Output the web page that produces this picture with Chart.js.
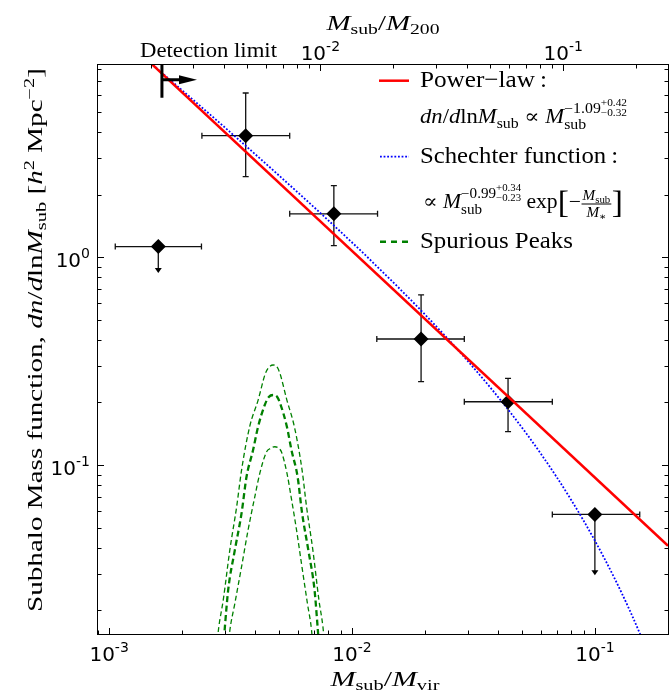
<!DOCTYPE html>
<html>
<head>
<meta charset="utf-8">
<script src="https://cdn.jsdelivr.net/npm/chart.js@4.4.0/dist/chart.umd.min.js"></script>
<style>
  html, body { margin: 0; padding: 0; background: #fff; }
  #c { display: block; }
</style>
</head>
<body>
<canvas id="c" width="670" height="694"></canvas>
<script>
// ===== Data =====

// binned subhalo mass function (x = Msub/Mvir)
const massBins = [0.001594, 0.00365, 0.00842, 0.01925, 0.0439, 0.1];
const binLow   = [0.00106, 0.00241, 0.00554, 0.01265, 0.0290, 0.0668];
const binHigh  = [0.00240, 0.00554, 0.01274, 0.0290, 0.0668, 0.153];
const massFn     = [1.125, 3.84, 1.616, 0.404, 0.2017, 0.0579];
const massFnLow  = [null, 2.44, 1.137, 0.2518, 0.1447, null];
const massFnHigh = [null, 6.16, 2.21, 0.658, 0.2615, null];
const limitTip   = [0.84, null, null, null, null, 0.0295];   // upper limits

// power-law fit (straight in log-log, ends at the frame)
const powerLawX = [0.0014, 0.2];
const powerLawY = [9.14, 0.0409];

// Schechter fit
const schechterX = [0.0014, 0.002, 0.003, 0.005, 0.008, 0.012, 0.02, 0.03, 0.045, 0.06, 0.08, 0.1, 0.12, 0.14, 0.16];
const schechterY = [9.09, 6.34, 4.20, 2.474, 1.501, 0.9605, 0.529, 0.316, 0.1784, 0.1131, 0.0678, 0.0433, 0.0288, 0.0197, 0.01375];

// spurious peaks: upper bound, median, lower bound
const peakHiX = [0.00279, 0.00283, 0.00295, 0.00314, 0.00335, 0.00351, 0.00379, 0.00411, 0.00439, 0.004543, 0.00473, 0.004928, 0.00506, 0.00539, 0.00579, 0.00623, 0.00650, 0.00690, 0.00731, 0.00759, 0.00768];
const peakHiY = [0.0144, 0.0167, 0.0224, 0.0390, 0.0630, 0.0946, 0.153, 0.206, 0.274, 0.2947, 0.303, 0.2947, 0.274, 0.206, 0.153, 0.0946, 0.0630, 0.0390, 0.0224, 0.0167, 0.0144];
const peakMidX = [0.002969, 0.002997, 0.003091, 0.003293, 0.003509, 0.003679, 0.003915, 0.004105, 0.004373, 0.004543, 0.004732, 0.004921, 0.005087, 0.005395, 0.005634, 0.005970, 0.006233, 0.006610, 0.007013, 0.007218, 0.007287];
const peakMidY = [0.0144, 0.01665, 0.02501, 0.03898, 0.05854, 0.08785, 0.1181, 0.1529, 0.1945, 0.2126, 0.2173, 0.2126, 0.1945, 0.1529, 0.1181, 0.08785, 0.05854, 0.03898, 0.02501, 0.01665, 0.0144];
const peakLoX = [0.003112, 0.003142, 0.003293, 0.003509, 0.003733, 0.003979, 0.004172, 0.004444, 0.004607, 0.004807, 0.005016, 0.005126, 0.005400, 0.005614, 0.005912, 0.006223, 0.006554, 0.006815, 0.006867];
const peakLoY = [0.0144, 0.01605, 0.02159, 0.03238, 0.04864, 0.0704, 0.0912, 0.1155, 0.1201, 0.1225, 0.1201, 0.1155, 0.0912, 0.0704, 0.04864, 0.03238, 0.02159, 0.01605, 0.0144];

// detection limit marker
const detectionLimit = 0.00165;
const detArrowEnd = 0.0023;
const detLineBottom = 5.85;
const detArrowY = 7.14;

// axes
const xRange = [0.0009, 0.2];
const yRange = [0.0154, 8.4];
const m200Ratio = 1.35;          // Msub/M200 = 1.35 * Msub/Mvir
const xMajor = [1e-3, 1e-2, 1e-1];
const xMajorLabels = ['-3', '-2', '-1'];
const x2Major = [1e-2, 1e-1];
const x2MajorLabels = ['-2', '-1'];
const yMajor = [0.1, 1];
const yMajorLabels = ['-1', '0'];

// ===== Text helpers =====

const SERIF = '"Liberation Serif", "DejaVu Serif", serif';
const SANS = '"DejaVu Sans", sans-serif';

function partFont(p) {
    return (p.it ? 'italic ' : '') + (p.s || 20) + 'px ' + (p.sans ? SANS : SERIF);
}

function layout(ctx, parts, draw) {
    let cx = 0, prevStart = 0;
    for (const p of parts) {
        const start = p.back ? prevStart : cx;
        let w;
        if (p.frac) {
            const wn = layout(ctx, p.frac[0], false);
            const wd = layout(ctx, p.frac[1], false);
            w = Math.max(wn, wd) + 3;
            if (draw) {
                ctx.save(); ctx.translate(start + (w - wn) / 2, p.ndy); layout(ctx, p.frac[0], true); ctx.restore();
                ctx.save(); ctx.translate(start + (w - wd) / 2, p.ddy); layout(ctx, p.frac[1], true); ctx.restore();
                ctx.fillRect(start + 0.5, p.bdy - 0.5, w - 1, 1);
            }
        } else {
            ctx.font = partFont(p);
            w = ctx.measureText(p.t).width;
            if (draw) ctx.fillText(p.t, start, p.dy || 0);
        }
        cx = Math.max(cx, start + w);
        prevStart = start;
    }
    return cx;
}

function drawRich(ctx, parts, x, y, o = {}) {
    const nat = layout(ctx, parts, false);
    const sc = o.width ? o.width / nat : 1;
    const total = nat * sc;
    const x0 = o.align === 'center' ? -total / 2 : o.align === 'right' ? -total : 0;
    ctx.save();
    ctx.fillStyle = '#000';
    ctx.textBaseline = 'alphabetic';
    ctx.textAlign = 'left';
    ctx.translate(x, y);
    if (o.rot) ctx.rotate(o.rot);
    ctx.translate(x0, 0);
    ctx.scale(sc, 1);
    layout(ctx, parts, true);
    ctx.restore();
}

function tickLabel(exp) {
    return [{ t: '10', s: 20, sans: true }, { t: exp, s: 14, sans: true, dy: -9 }];
}

function minorTicks(lo, hi) {
    const out = [];
    for (let e = -4; e <= 1; e++) {
        for (let k = 2; k <= 9; k++) {
            const v = k * Math.pow(10, e);
            if (v > lo && v < hi) out.push(v);
        }
    }
    return out;
}

// ===== Decorations: error bars, limits, frame, ticks, texts =====

const CAP = 3;
const decor = {
    id: 'decor',
    beforeDatasetsDraw(chart) {
        const { ctx, scales: { x, y } } = chart;
        ctx.save();
        ctx.strokeStyle = '#111';
        ctx.fillStyle = '#000';
        ctx.lineWidth = 1.3;
        massBins.forEach((m, i) => {
            const px = x.getPixelForValue(m), py = y.getPixelForValue(massFn[i]);
            const x0 = x.getPixelForValue(binLow[i]), x1 = x.getPixelForValue(binHigh[i]);
            ctx.beginPath();
            ctx.moveTo(x0, py); ctx.lineTo(x1, py);
            ctx.moveTo(x0, py - CAP); ctx.lineTo(x0, py + CAP);
            ctx.moveTo(x1, py - CAP); ctx.lineTo(x1, py + CAP);
            if (massFnLow[i] != null) {
                const y0 = y.getPixelForValue(massFnLow[i]), y1 = y.getPixelForValue(massFnHigh[i]);
                ctx.moveTo(px, y0); ctx.lineTo(px, y1);
                ctx.moveTo(px - CAP, y0); ctx.lineTo(px + CAP, y0);
                ctx.moveTo(px - CAP, y1); ctx.lineTo(px + CAP, y1);
            }
            ctx.stroke();
            if (limitTip[i] != null) {
                const tip = y.getPixelForValue(limitTip[i]);
                ctx.beginPath();
                ctx.moveTo(px, py); ctx.lineTo(px, tip - 4);
                ctx.stroke();
                ctx.beginPath();
                ctx.moveTo(px - 3.5, tip - 5); ctx.lineTo(px + 3.5, tip - 5); ctx.lineTo(px, tip);
                ctx.closePath();
                ctx.fill();
            }
        });
        ctx.restore();
    },
    afterDatasetsDraw(chart) {
        const { ctx, chartArea: ca, scales: { x, y, x2 } } = chart;
        ctx.save();
        // detection limit
        const dx = x.getPixelForValue(detectionLimit);
        const ax = x.getPixelForValue(detArrowEnd);
        const ay = y.getPixelForValue(detArrowY);
        ctx.strokeStyle = '#000';
        ctx.fillStyle = '#000';
        ctx.lineWidth = 3;
        ctx.beginPath();
        ctx.moveTo(dx, ca.top); ctx.lineTo(dx, y.getPixelForValue(detLineBottom));
        ctx.moveTo(dx, ay); ctx.lineTo(ax - 15, ay);
        ctx.stroke();
        ctx.beginPath();
        ctx.moveTo(ax - 18, ay - 4.5); ctx.lineTo(ax, ay); ctx.lineTo(ax - 18, ay + 4.5);
        ctx.closePath();
        ctx.fill();

        // frame
        ctx.lineWidth = 1;
        ctx.strokeStyle = '#000';
        ctx.strokeRect(ca.left - 0.5, ca.top - 0.5, ca.width + 1, ca.height + 1);

        // inward ticks
        ctx.beginPath();
        const tickX = (scale, v, len, top) => {
            const p = Math.round(scale.getPixelForValue(v)) + 0.5;
            if (top) { ctx.moveTo(p, ca.top); ctx.lineTo(p, ca.top + len); }
            else { ctx.moveTo(p, ca.bottom); ctx.lineTo(p, ca.bottom - len); }
        };
        xMajor.forEach(v => tickX(x, v, 6, false));
        minorTicks(xRange[0], xRange[1]).forEach(v => tickX(x, v, 3.5, false));
        x2Major.forEach(v => tickX(x2, v, 6, true));
        minorTicks(x2.min, x2.max).forEach(v => tickX(x2, v, 3.5, true));
        const tickY = (v, len) => {
            const p = Math.round(y.getPixelForValue(v)) + 0.5;
            ctx.moveTo(ca.left, p); ctx.lineTo(ca.left + len, p);
            ctx.moveTo(ca.right, p); ctx.lineTo(ca.right - len, p);
        };
        yMajor.forEach(v => tickY(v, 6));
        minorTicks(yRange[0], yRange[1]).forEach(v => tickY(v, 3.5));
        ctx.stroke();
        ctx.restore();
    },
    afterDraw(chart) {
        const { ctx, scales: { x, y, x2 } } = chart;

        // tick labels
        xMajor.forEach((v, i) => drawRich(ctx, tickLabel(xMajorLabels[i]), x.getPixelForValue(v), 661, { align: 'center' }));
        x2Major.forEach((v, i) => drawRich(ctx, tickLabel(x2MajorLabels[i]), x2.getPixelForValue(v), 59.5, { align: 'center' }));
        yMajor.forEach((v, i) => drawRich(ctx, tickLabel(yMajorLabels[i]), 90, y.getPixelForValue(v) + 9.5, { align: 'right' }));

        // axis titles
        drawRich(ctx, [
            { t: 'M', it: true, s: 22 }, { t: 'sub', s: 15, dy: 4 }, { t: '/', s: 22 },
            { t: 'M', it: true, s: 22 }, { t: 'vir', s: 15, dy: 4 }
        ], 385, 686, { align: 'center', width: 109 });
        drawRich(ctx, [
            { t: 'M', it: true, s: 22 }, { t: 'sub', s: 15, dy: 4 }, { t: '/', s: 22 },
            { t: 'M', it: true, s: 22 }, { t: '200', s: 15, dy: 4 }
        ], 383, 30, { align: 'center', width: 113 });
        drawRich(ctx, [
            { t: 'Subhalo Mass function, ', s: 20 }, { t: 'dn', it: true, s: 20 }, { t: '/', s: 20 },
            { t: 'd', it: true, s: 20 }, { t: 'ln', s: 20 }, { t: 'M', it: true, s: 20 },
            { t: 'sub', s: 14, dy: 4 }, { t: ' [', s: 20 }, { t: 'h', it: true, s: 20 },
            { t: '2', s: 14, dy: -8 }, { t: ' Mpc', s: 20 }, { t: '\u22122', s: 14, dy: -8 }, { t: ']', s: 20 }
        ], 42, 340, { align: 'center', width: 544, rot: -Math.PI / 2 });

        drawRich(ctx, [{ t: 'Detection limit', s: 21 }], 140, 56.7, { width: 137 });

        // legend
        ctx.save();
        ctx.lineWidth = 2.5;
        ctx.strokeStyle = '#ff0000';
        ctx.beginPath(); ctx.moveTo(379, 80.7); ctx.lineTo(409, 80.7); ctx.stroke();
        ctx.lineWidth = 1.8;
        ctx.strokeStyle = '#0000ff';
        ctx.setLineDash([1.8, 1.8]);
        ctx.beginPath(); ctx.moveTo(380, 156.7); ctx.lineTo(409, 156.7); ctx.stroke();
        ctx.lineWidth = 2.5;
        ctx.strokeStyle = '#008000';
        ctx.setLineDash([6, 5]);
        ctx.beginPath(); ctx.moveTo(380, 241.7); ctx.lineTo(409, 241.7); ctx.stroke();
        ctx.restore();

        drawRich(ctx, [{ t: 'Power\u2212law\u2009:', s: 24 }], 420, 86.7, { width: 127 });
        drawRich(ctx, [
            { t: 'dn', it: true, s: 20 }, { t: '/', s: 20 }, { t: 'd', it: true, s: 20 }, { t: 'ln', s: 20 },
            { t: 'M', it: true, s: 20 }, { t: 'sub', s: 14, dy: 5 }, { t: ' \u221D ', s: 20 },
            { t: 'M', it: true, s: 20 }, { t: 'sub', s: 14, dy: 6 }, { t: '\u22121.09', s: 14, dy: -10, back: true },
            { t: '+0.42', s: 10, dy: -17 }, { t: '\u22120.32', s: 10, dy: -7, back: true }
        ], 420, 122.7, { width: 207 });
        drawRich(ctx, [{ t: 'Schechter function\u2009:', s: 24 }], 420, 163.3, { width: 198 });
        drawRich(ctx, [
            { t: '\u221D ', s: 20 }, { t: 'M', it: true, s: 20 }, { t: 'sub', s: 14, dy: 6 },
            { t: '\u22120.99', s: 14, dy: -10, back: true },
            { t: '+0.34', s: 10, dy: -17 }, { t: '\u22120.23', s: 10, dy: -7, back: true },
            { t: ' exp', s: 20 }, { t: '[', s: 31, dy: 5 }, { t: '\u2212', s: 20 },
            { frac: [[{ t: 'M', it: true, s: 14 }, { t: 'sub', s: 10, dy: 3 }],
                     [{ t: 'M', it: true, s: 14 }, { t: '\u2217', s: 10, dy: 3 }]], ndy: -8, ddy: 9, bdy: -4 },
            { t: ']', s: 31, dy: 5 }
        ], 423, 208, { width: 200 });
        drawRich(ctx, [{ t: 'Spurious Peaks', s: 24 }], 420, 248.3, { width: 153 });
    }
};

// ===== Chart =====

const pts = (xs, ys) => xs.map((v, i) => ({ x: v, y: ys[i] }));

const lineBase = { type: 'line', showLine: true, pointRadius: 0, fill: false, clip: 0 };

new Chart(document.getElementById('c').getContext('2d'), {
    type: 'scatter',
    data: {
        datasets: [
            { ...lineBase, label: 'Power-law', data: pts(powerLawX, powerLawY),
              borderColor: '#ff0000', borderWidth: 2.5, order: 1 },
            { label: 'Subhalos', data: pts(massBins, massFn), pointStyle: 'rectRot', pointRadius: 7.5,
              backgroundColor: '#000', borderColor: '#000', borderWidth: 0, order: 2, clip: 0 },
            { ...lineBase, label: 'Schechter function', data: pts(schechterX, schechterY),
              borderColor: '#0000ff', borderWidth: 1.8, borderDash: [1.8, 1.8],
              cubicInterpolationMode: 'monotone', order: 3 },
            { ...lineBase, label: 'Spurious Peaks', data: pts(peakMidX, peakMidY),
              borderColor: '#008000', borderWidth: 2.3, borderDash: [6, 3.5],
              cubicInterpolationMode: 'monotone', order: 4 },
            { ...lineBase, label: 'upper', data: pts(peakHiX, peakHiY),
              borderColor: '#008000', borderWidth: 1.3, borderDash: [5, 3],
              cubicInterpolationMode: 'monotone', order: 5 },
            { ...lineBase, label: 'lower', data: pts(peakLoX, peakLoY),
              borderColor: '#008000', borderWidth: 1.3, borderDash: [5, 3],
              cubicInterpolationMode: 'monotone', order: 5 }
        ]
    },
    options: {
        responsive: false,
        animation: false,
        events: [],
        layout: { autoPadding: false, padding: { left: 98, right: 2, top: 65, bottom: 60 } },
        plugins: { legend: { display: false }, tooltip: { enabled: false } },
        scales: {
            x: { type: 'logarithmic', min: xRange[0], max: xRange[1], display: false },
            y: { type: 'logarithmic', min: yRange[0], max: yRange[1], display: false },
            x2: { type: 'logarithmic', position: 'top', min: xRange[0] * m200Ratio, max: xRange[1] * m200Ratio, display: false }
        }
    },
    plugins: [decor]
});
</script>
</body>
</html>
